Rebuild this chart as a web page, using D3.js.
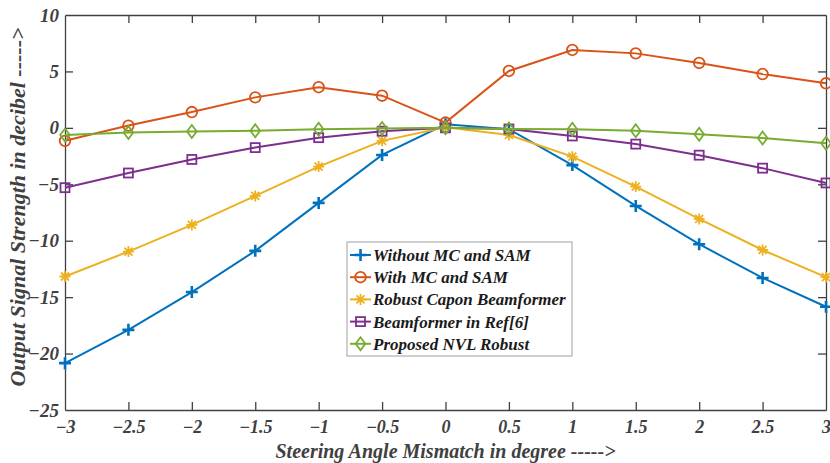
<!DOCTYPE html>
<html>
<head>
<meta charset="utf-8">
<script src="https://cdn.jsdelivr.net/npm/d3@7"></script>
<style>
  body { margin: 0; background: #fff; }
  text { font-family: "Liberation Serif", "Times New Roman", serif; font-weight: bold; font-style: italic; }
</style>
</head>
<body>
<div id="chart"></div>
<script>
const angles = [-3, -2.5, -2, -1.5, -1, -0.5, 0, 0.5, 1, 1.5, 2, 2.5, 3];

const withoutMcSam = [-20.85, -17.9, -14.55, -10.9, -6.65, -2.4, 0.32, -0.12, -3.3, -6.92, -10.31, -13.3, -15.85];
const withMcSam = [-1.15, 0.2, 1.4, 2.7, 3.6, 2.85, 0.47, 5.04, 6.9, 6.6, 5.75, 4.77, 3.95];
const robustCapon = [-13.17, -10.96, -8.6, -6.03, -3.43, -1.15, 0.05, -0.63, -2.55, -5.2, -8.07, -10.82, -13.23];
const refSix = [-5.3, -4.0, -2.8, -1.75, -0.87, -0.3, 0, -0.1, -0.72, -1.44, -2.42, -3.57, -4.88];
const proposedNvl = [-0.63, -0.42, -0.33, -0.25, -0.13, -0.05, 0, -0.1, -0.12, -0.25, -0.57, -0.9, -1.37];

const xTicks = [-3, -2.5, -2, -1.5, -1, -0.5, 0, 0.5, 1, 1.5, 2, 2.5, 3];
const yTicks = [-25, -20, -15, -10, -5, 0, 5, 10];

const series = [
  { name: 'Without MC and SAM', values: withoutMcSam, color: '#0072BD', marker: 'plus' },
  { name: 'With MC and SAM', values: withMcSam, color: '#D95319', marker: 'circle' },
  { name: 'Robust Capon Beamformer', values: robustCapon, color: '#EDB120', marker: 'star' },
  { name: 'Beamformer in Ref[6]', values: refSix, color: '#7E2F8E', marker: 'square' },
  { name: 'Proposed NVL Robust', values: proposedNvl, color: '#77AC30', marker: 'diamond' }
];

const width = 830, height = 463;
const margin = { top: 15, right: 4, bottom: 53, left: 65 };
const axisColor = '#404040';

const svg = d3.select('#chart').append('svg')
  .attr('width', width)
  .attr('height', height);

const x = d3.scaleLinear().domain([-3, 3]).range([margin.left, width - margin.right]);
const y = d3.scaleLinear().domain([-25, 10]).range([height - margin.bottom, margin.top]);

// axes: ticks drawn inward on all four sides
const tickLen = 8;
const xAxisBottom = svg.append('g')
  .attr('transform', `translate(0,${y(-25)})`)
  .call(d3.axisBottom(x).tickValues(xTicks).tickSizeInner(-tickLen).tickSizeOuter(0).tickPadding(10).tickFormat(d3.format('')));
const xAxisTop = svg.append('g')
  .attr('transform', `translate(0,${y(10)})`)
  .call(d3.axisTop(x).tickValues(xTicks).tickSizeInner(-tickLen).tickSizeOuter(0).tickFormat(''));
const yAxisLeft = svg.append('g')
  .attr('transform', `translate(${x(-3)},0)`)
  .call(d3.axisLeft(y).tickValues(yTicks).tickSizeInner(-tickLen).tickSizeOuter(0).tickPadding(6).tickFormat(d3.format('')));
const yAxisRight = svg.append('g')
  .attr('transform', `translate(${x(3)},0)`)
  .call(d3.axisRight(y).tickValues(yTicks).tickSizeInner(-tickLen).tickSizeOuter(0).tickFormat(''));

[xAxisBottom, xAxisTop, yAxisLeft, yAxisRight].forEach(g => {
  g.select('.domain').attr('stroke', axisColor).attr('stroke-width', 1.3);
  g.selectAll('.tick line').attr('stroke', axisColor).attr('stroke-width', 1.3);
  g.selectAll('.tick text')
    .attr('fill', axisColor)
    .style('font-size', '19px');
});
xAxisBottom.selectAll('.tick text').style('font-size', '18px');
// keep end ticks off the frame edges like the reference
xAxisBottom.selectAll('.tick line').filter(d => d === -3 || d === 3).remove();
xAxisTop.selectAll('.tick line').filter(d => d === -3 || d === 3).remove();
yAxisLeft.selectAll('.tick line').filter(d => d === -25 || d === 10).remove();
yAxisRight.selectAll('.tick line').filter(d => d === -25 || d === 10).remove();

// axis titles
svg.append('text')
  .attr('x', (x(-3) + x(3)) / 2)
  .attr('y', 458)
  .attr('text-anchor', 'middle')
  .attr('fill', axisColor)
  .style('font-size', '20px')
  .text('Steering Angle Mismatch in degree ----->');

svg.append('text')
  .attr('transform', `translate(25,207) rotate(-90)`)
  .attr('text-anchor', 'middle')
  .attr('fill', axisColor)
  .style('font-size', '22px')
  .text('Output Signal Strength in decibel ----->');

// marker drawing
function drawMarker(g, type, color) {
  if (type === 'plus') {
    g.append('path').attr('d', 'M-6,0H6M0,-6V6')
      .attr('stroke', color).attr('stroke-width', 2.6).attr('fill', 'none');
  } else if (type === 'circle') {
    g.append('circle').attr('r', 5.3)
      .attr('stroke', color).attr('stroke-width', 1.8).attr('fill', 'none');
  } else if (type === 'star') {
    g.append('path').attr('d', 'M-5.5,0H5.5M0,-5.5V5.5M-4,-4L4,4M-4,4L4,-4')
      .attr('stroke', color).attr('stroke-width', 1.8).attr('fill', 'none');
  } else if (type === 'square') {
    g.append('rect').attr('x', -4.5).attr('y', -4.5).attr('width', 9).attr('height', 9)
      .attr('stroke', color).attr('stroke-width', 1.8).attr('fill', 'none');
  } else if (type === 'diamond') {
    g.append('path').attr('d', 'M0,-6.5L4.8,0L0,6.5L-4.8,0Z')
      .attr('stroke', color).attr('stroke-width', 1.8).attr('fill', 'none');
  }
}

const line = d3.line()
  .x((d, i) => x(angles[i]))
  .y(d => y(d));

const plot = svg.append('g');
series.forEach(s => {
  const g = plot.append('g');
  g.append('path')
    .datum(s.values)
    .attr('d', line)
    .attr('fill', 'none')
    .attr('stroke', s.color)
    .attr('stroke-width', 2);
  g.selectAll('g.mk')
    .data(s.values)
    .join('g')
    .attr('class', 'mk')
    .attr('transform', (d, i) => `translate(${x(angles[i])},${y(d)})`)
    .each(function () { drawMarker(d3.select(this), s.marker, s.color); });
});

// legend
const legend = svg.append('g').attr('transform', 'translate(347,242)');
legend.append('rect')
  .attr('width', 225).attr('height', 114)
  .attr('fill', '#fff')
  .attr('stroke', '#a0a0a0')
  .attr('stroke-width', 1);

series.forEach((s, i) => {
  const row = legend.append('g').attr('transform', `translate(0,${13 + i * 22.2})`);
  row.append('line')
    .attr('x1', 3).attr('x2', 24)
    .attr('stroke', s.color).attr('stroke-width', 2);
  const m = row.append('g').attr('transform', 'translate(13.5,0)');
  drawMarker(m, s.marker, s.color);
  row.append('text')
    .attr('x', 26).attr('y', 6)
    .attr('fill', '#1a1a1a')
    .style('font-size', '17px')
    .text(s.name);
});
</script>
</body>
</html>
